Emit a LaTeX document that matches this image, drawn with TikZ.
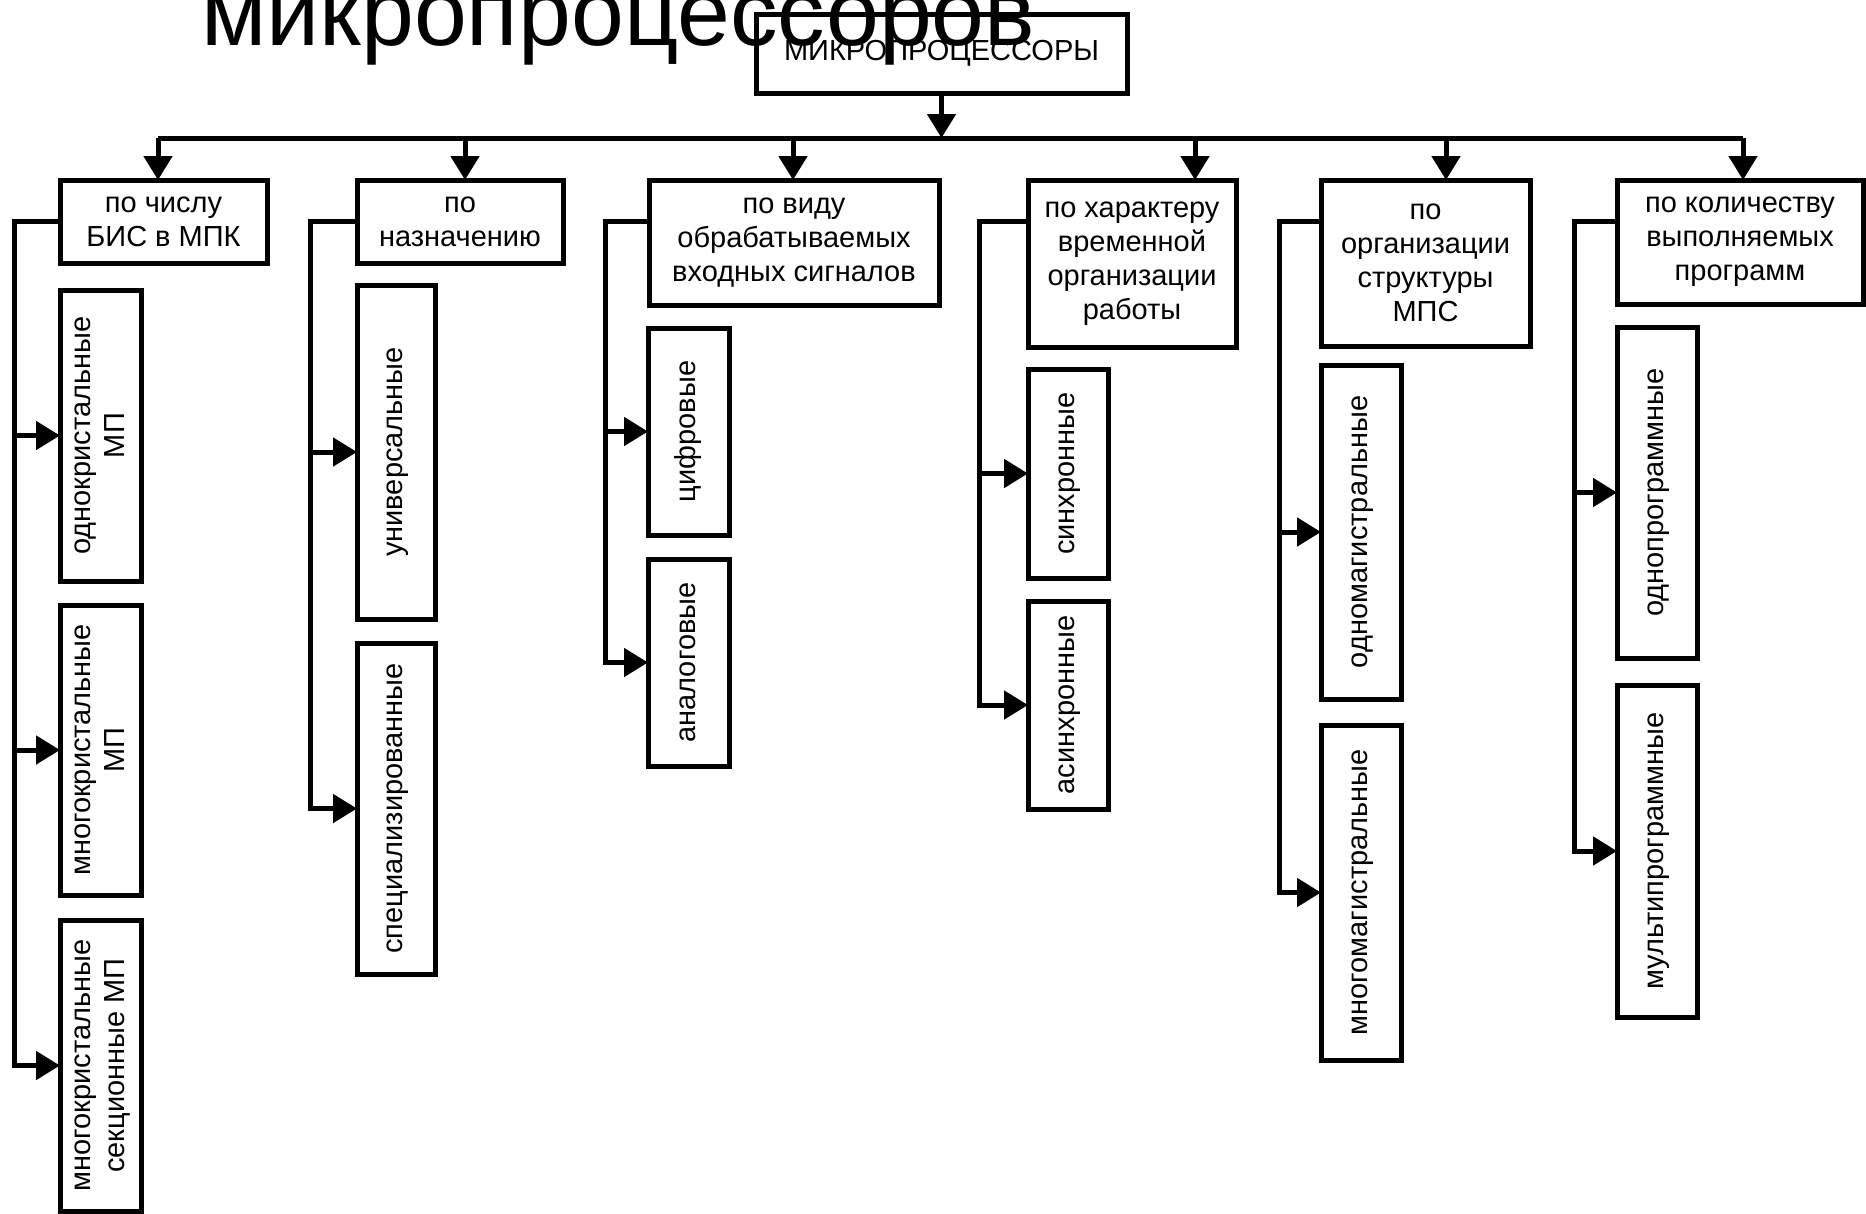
\documentclass[tikz,border=0pt]{standalone}
\usepackage{fontspec}
\setmainfont{Liberation Sans}
\usetikzlibrary{arrows.meta}
\newcommand\vlabel[1]{\rotatebox{90}{\begin{tabular}{@{}c@{}}#1\end{tabular}}}
\begin{document}
\begin{tikzpicture}[x=1pt,y=-1pt,
  box/.style={draw, line width=5pt, rectangle, inner sep=0pt, outer sep=0pt,
    anchor=north west, align=center, font=\fontsize{29}{34}\selectfont},
  wire/.style={line width=5pt, line join=miter},
  arr/.style={wire, -{Triangle[length=24pt,width=28pt]}}]

\fill[white] (0,0) rectangle (1866,1213);
\useasboundingbox (0,0) rectangle (1866,1213);

% root
\node[box, minimum width=371pt, minimum height=79pt] (top) at (756,14) {МИКРОПРОЦЕССОРЫ};

% classification criteria
\node[box, minimum width=207pt, minimum height=83pt]  (g1) at (60,180)   {по числу\\БИС в МПК};
\node[box, minimum width=206pt, minimum height=83pt]  (g2) at (357,180)  {по\\назначению};
\node[box, minimum width=290pt, minimum height=125pt] (g3) at (649,180)  {по виду\\обрабатываемых\\входных сигналов};
\node[box, minimum width=208pt, minimum height=167pt] (g4) at (1028,180) {по характеру\\временной\\организации\\работы};
\node[box, minimum width=209pt, minimum height=166pt] (g5) at (1321,180) {по\\организации\\структуры\\МПС};
\node[box, minimum width=246pt, minimum height=124pt] (g6) at (1617,180) {по количеству\\выполняемых\\программ};

% kinds
\node[box, minimum width=81pt, minimum height=291pt] (c11) at (60,290)  {\vlabel{однокристальные\\МП}};
\node[box, minimum width=81pt, minimum height=290pt] (c12) at (60,605)  {\vlabel{многокристальные\\МП}};
\node[box, minimum width=81pt, minimum height=291pt] (c13) at (60,920)  {\vlabel{многокристальные\\секционные МП}};
\node[box, minimum width=78pt, minimum height=334pt] (c21) at (357,285) {\vlabel{универсальные}};
\node[box, minimum width=78pt, minimum height=331pt] (c22) at (357,643) {\vlabel{специализированные}};
\node[box, minimum width=81pt, minimum height=207pt] (c31) at (648,328) {\vlabel{цифровые}};
\node[box, minimum width=81pt, minimum height=207pt] (c32) at (648,559) {\vlabel{аналоговые}};
\node[box, minimum width=80pt, minimum height=209pt] (c41) at (1028,369) {\vlabel{синхронные}};
\node[box, minimum width=80pt, minimum height=208pt] (c42) at (1028,601) {\vlabel{асинхронные}};
\node[box, minimum width=80pt, minimum height=334pt] (c51) at (1321,365) {\vlabel{одномагистральные}};
\node[box, minimum width=80pt, minimum height=335pt] (c52) at (1321,725) {\vlabel{многомагистральные}};
\node[box, minimum width=80pt, minimum height=331pt] (c61) at (1617,327) {\vlabel{однопрограммные}};
\node[box, minimum width=80pt, minimum height=332pt] (c62) at (1617,685) {\vlabel{мультипрограммные}};

% distribution bus
\coordinate (b1) at (158,138);
\coordinate (b2) at (465,138);
\coordinate (b3) at (793,138);
\coordinate (b4) at (1195,138);
\coordinate (b5) at (1446,138);
\coordinate (b6) at (1743,138);
\draw[wire] (b1) -- (b6);
\draw[arr] (top.south) -- (top.south |- b1);
\foreach \i in {1,...,6} \draw[arr] (b\i) -- (b\i |- g\i.north);

% side rails
\coordinate (r1) at (14,221);
\coordinate (r2) at (310,221);
\coordinate (r3) at (605,221);
\coordinate (r4) at (979,221);
\coordinate (r5) at (1279,221);
\coordinate (r6) at (1574,221);

\draw[arr] (g1.west |- r1) -- (r1) -- (r1 |- c13.west) -- (c13.west);
\draw[arr] (r1 |- c11.west) -- (c11.west);
\draw[arr] (r1 |- c12.west) -- (c12.west);

\draw[arr] (g2.west |- r2) -- (r2) -- (r2 |- c22.west) -- (c22.west);
\draw[arr] (r2 |- c21.west) -- (c21.west);

\draw[arr] (g3.west |- r3) -- (r3) -- (r3 |- c32.west) -- (c32.west);
\draw[arr] (r3 |- c31.west) -- (c31.west);

\draw[arr] (g4.west |- r4) -- (r4) -- (r4 |- c42.west) -- (c42.west);
\draw[arr] (r4 |- c41.west) -- (c41.west);

\draw[arr] (g5.west |- r5) -- (r5) -- (r5 |- c52.west) -- (c52.west);
\draw[arr] (r5 |- c51.west) -- (c51.west);

\draw[arr] (g6.west |- r6) -- (r6) -- (r6 |- c62.west) -- (c62.west);
\draw[arr] (r6 |- c61.west) -- (c61.west);

% heading, set over the root box
\node[anchor=base west, inner sep=0pt, font=\fontsize{95}{100}\selectfont] (title) at (201,45) {микропроцессоров};
\end{tikzpicture}
\end{document}
